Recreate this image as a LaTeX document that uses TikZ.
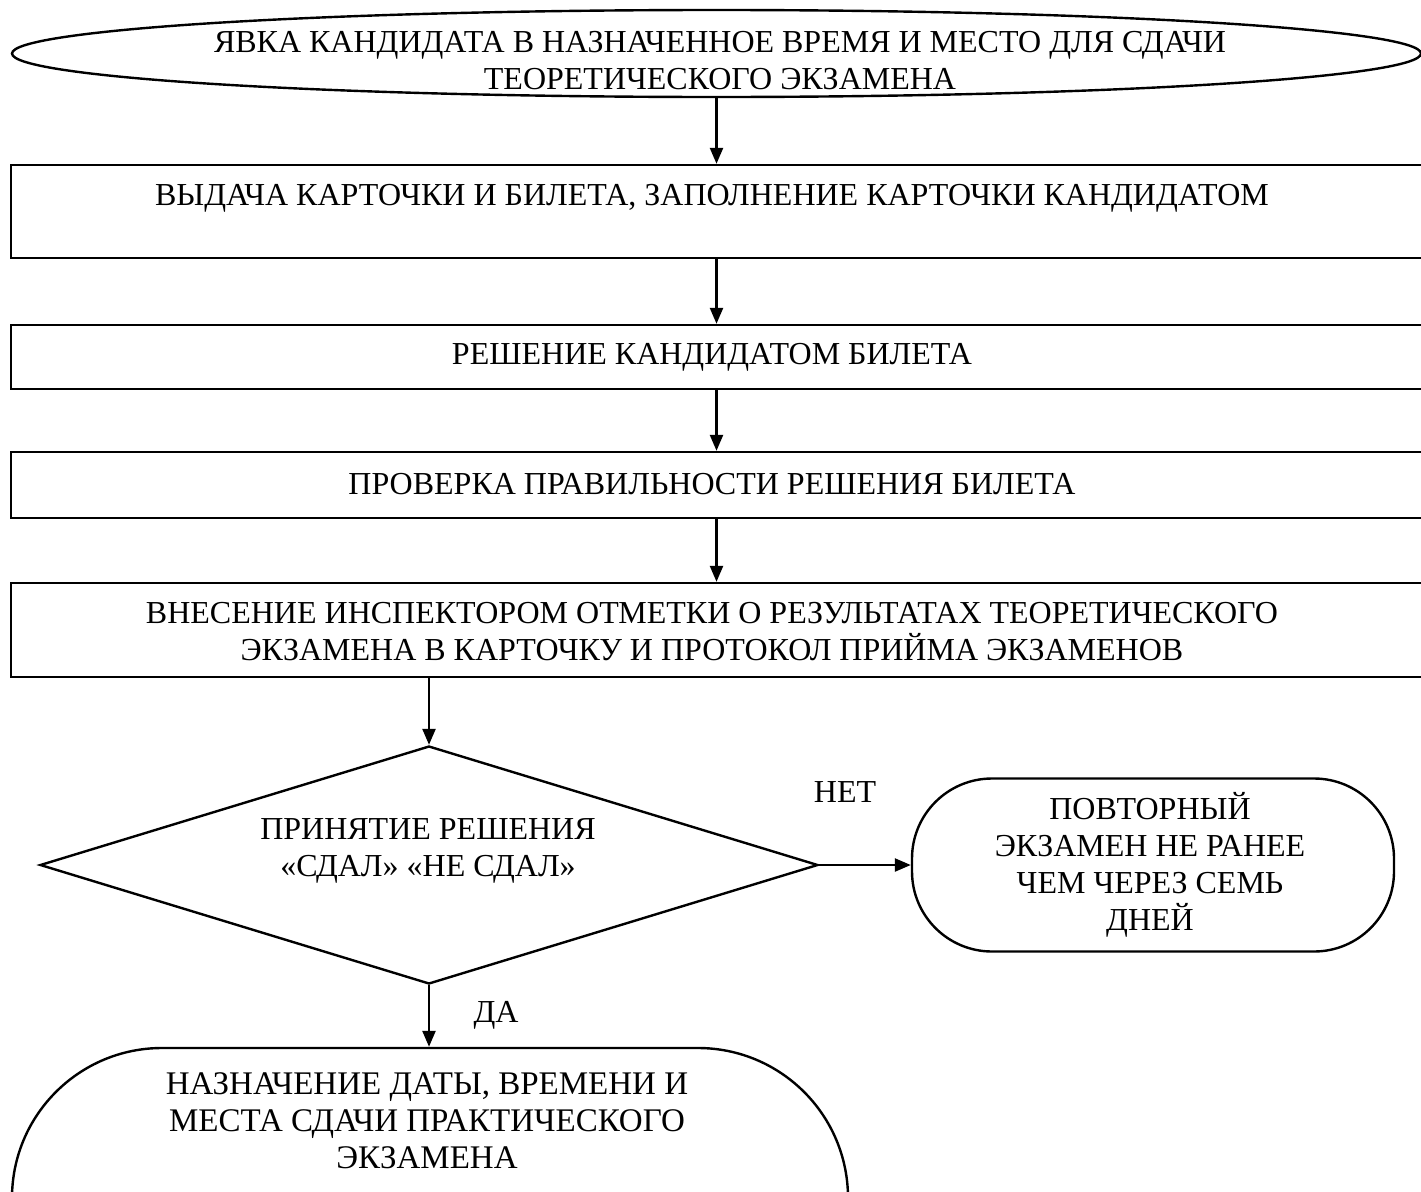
\documentclass[tikz,border=0pt]{standalone}
\usepackage{fontspec}
\setmainfont{Liberation Serif}
\usetikzlibrary{shapes.geometric,arrows.meta}
\begin{document}
\begin{tikzpicture}[x=1pt,y=-1pt,
  shp/.style={draw=black,line width=2.4pt,inner sep=0pt},
  txt/.style={font=\fontsize{32}{37}\selectfont,align=center,inner sep=0pt},
  arr/.style={line width=2.4pt,-{Triangle[length=16pt,width=13pt]}}]
\useasboundingbox (0,0) rectangle (1421,1191);
\clip (0,0) rectangle (1421,1191);
% shapes
\node[shp,ellipse,minimum width=1409pt,minimum height=87pt] (e) at (716.5,53.5) {};
\node[shp,rectangle,minimum width=1414pt,minimum height=93pt] (b1) at (718,211.5) {};
\node[shp,rectangle,minimum width=1414pt,minimum height=64pt] (b2) at (718,357) {};
\node[shp,rectangle,minimum width=1414pt,minimum height=66pt] (b3) at (718,485) {};
\node[shp,rectangle,minimum width=1414pt,minimum height=94pt] (b4) at (718,630) {};
\node[shp,diamond,minimum width=778pt,minimum height=238pt] (d) at (429,865) {};
\node[shp,rectangle,rounded corners=80pt,minimum width=482pt,minimum height=173pt] (r) at (1153,865) {};
\node[shp,rectangle,rounded corners=150pt,minimum width=836pt,minimum height=300pt] (f) at (430,1198) {};
% texts
\node[txt] (te) at (720,61) {ЯВКА КАНДИДАТА В НАЗНАЧЕННОЕ ВРЕМЯ И МЕСТО ДЛЯ СДАЧИ\\ТЕОРЕТИЧЕСКОГО ЭКЗАМЕНА};
\node[txt] (t1) at (712,198) {ВЫДАЧА КАРТОЧКИ И БИЛЕТА, ЗАПОЛНЕНИЕ КАРТОЧКИ КАНДИДАТОМ};
\node[txt] (t2) at (712,357) {РЕШЕНИЕ КАНДИДАТОМ БИЛЕТА};
\node[txt] (t3) at (712,484) {ПРОВЕРКА ПРАВИЛЬНОСТИ РЕШЕНИЯ БИЛЕТА};
\node[txt] (t4) at (712,632) {ВНЕСЕНИЕ ИНСПЕКТОРОМ ОТМЕТКИ О РЕЗУЛЬТАТАХ ТЕОРЕТИЧЕСКОГО\\ЭКЗАМЕНА В КАРТОЧКУ И ПРОТОКОЛ ПРИЙМА ЭКЗАМЕНОВ};
\node[txt] (td) at (428,851) {ПРИНЯТИЕ РЕШЕНИЯ\\«СДАЛ» «НЕ СДАЛ»};
\node[txt] (tr) at (1150,865) {ПОВТОРНЫЙ\\ЭКЗАМЕН НЕ РАНЕЕ\\ЧЕМ ЧЕРЕЗ СЕМЬ\\ДНЕЙ};
\node[txt,font=\fontsize{33}{37}\selectfont] (tf) at (427,1121) {НАЗНАЧЕНИЕ ДАТЫ, ВРЕМЕНИ И\\МЕСТА СДАЧИ ПРАКТИЧЕСКОГО\\ЭКЗАМЕНА};
\node[txt] (no) at (845,792) {НЕТ};
\node[txt] (yes) at (496,1015) {ДА};
% connectors
\draw[arr] (e.south) -- (e.south |- b1.north);
\draw[arr] (e.south |- b1.south) -- (e.south |- b2.north);
\draw[arr] (e.south |- b2.south) -- (e.south |- b3.north);
\draw[arr] (e.south |- b3.south) -- (e.south |- b4.north);
\draw[arr] (d.north |- b4.south) -- (d.north);
\draw[arr] (d.east) -- (r.west);
\draw[arr] (d.south) -- (d.south |- f.north);
\end{tikzpicture}
\end{document}
